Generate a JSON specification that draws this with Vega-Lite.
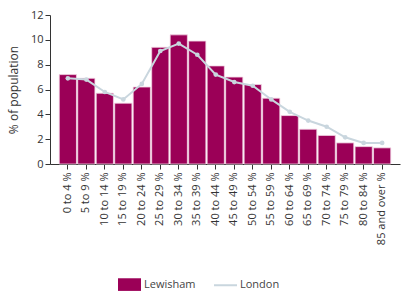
{
  "$schema": "https://vega.github.io/schema/vega-lite/v6.json",
  "width": 350,
  "height": 149,
  "autosize": {"type": "none"},
  "padding": {"left": 50, "top": 15, "right": 1, "bottom": 129},
  "config": {
    "font": "Open Sans",
    "view": {"stroke": null},
    "axis": {"labelColor": "#333333", "titleColor": "#333333", "domainColor": "#333333", "tickColor": "#333333", "labelFontSize": 11, "grid": false, "titleFontWeight": "normal", "labelOverlap": false}
  },
  "data": {
    "values": [
      {"age": "0 to 4 %", "series": "Lewisham", "value": 7.2},
      {"age": "5 to 9 %", "series": "Lewisham", "value": 6.9},
      {"age": "10 to 14 %", "series": "Lewisham", "value": 5.7},
      {"age": "15 to 19 %", "series": "Lewisham", "value": 4.9},
      {"age": "20 to 24 %", "series": "Lewisham", "value": 6.2},
      {"age": "25 to 29 %", "series": "Lewisham", "value": 9.4},
      {"age": "30 to 34 %", "series": "Lewisham", "value": 10.4},
      {"age": "35 to 39 %", "series": "Lewisham", "value": 9.9},
      {"age": "40 to 44 %", "series": "Lewisham", "value": 7.9},
      {"age": "45 to 49 %", "series": "Lewisham", "value": 7.0},
      {"age": "50 to 54 %", "series": "Lewisham", "value": 6.4},
      {"age": "55 to 59 %", "series": "Lewisham", "value": 5.3},
      {"age": "60 to 64 %", "series": "Lewisham", "value": 3.9},
      {"age": "65 to 69 %", "series": "Lewisham", "value": 2.8},
      {"age": "70 to 74 %", "series": "Lewisham", "value": 2.3},
      {"age": "75 to 79 %", "series": "Lewisham", "value": 1.7},
      {"age": "80 to 84 %", "series": "Lewisham", "value": 1.4},
      {"age": "85 and over %", "series": "Lewisham", "value": 1.3},
      {"age": "0 to 4 %", "series": "London", "value": 6.9},
      {"age": "5 to 9 %", "series": "London", "value": 6.8},
      {"age": "10 to 14 %", "series": "London", "value": 5.8},
      {"age": "15 to 19 %", "series": "London", "value": 5.2},
      {"age": "20 to 24 %", "series": "London", "value": 6.45},
      {"age": "25 to 29 %", "series": "London", "value": 9.1},
      {"age": "30 to 34 %", "series": "London", "value": 9.7},
      {"age": "35 to 39 %", "series": "London", "value": 8.8},
      {"age": "40 to 44 %", "series": "London", "value": 7.2},
      {"age": "45 to 49 %", "series": "London", "value": 6.6},
      {"age": "50 to 54 %", "series": "London", "value": 6.3},
      {"age": "55 to 59 %", "series": "London", "value": 5.2},
      {"age": "60 to 64 %", "series": "London", "value": 4.2},
      {"age": "65 to 69 %", "series": "London", "value": 3.5},
      {"age": "70 to 74 %", "series": "London", "value": 3.0},
      {"age": "75 to 79 %", "series": "London", "value": 2.15},
      {"age": "80 to 84 %", "series": "London", "value": 1.7},
      {"age": "85 and over %", "series": "London", "value": 1.7}
    ]
  },
  "encoding": {
    "x": {
      "field": "age", "type": "nominal", "sort": null,
      "scale": {"paddingInner": 0.07, "paddingOuter": 0.5},
      "axis": {"title": null, "labelAngle": -90, "labelPadding": 3, "tickSize": 5}
    },
    "y": {
      "field": "value", "type": "quantitative",
      "scale": {"domain": [0, 12]},
      "axis": {"title": "% of population", "titleFontSize": 12, "values": [0, 2, 4, 6, 8, 10, 12], "tickSize": 5, "titlePadding": 10}
    },
    "color": {
      "field": "series", "type": "nominal",
      "scale": {"domain": ["Lewisham", "London"], "range": ["#9b0057", "#c9d6de"]},
      "legend": {
        "title": null,
        "orient": "none",
        "legendX": 74,
        "legendY": 264,
        "direction": "horizontal",
        "labelFontSize": 11,
        "labelColor": "#444444",
        "columnPadding": 14,
        "symbolSize": 529,
        "labelOffset": 9,
        "encode": {
          "symbols": {
            "update": {
              "shape": {"signal": "datum.label === 'London' ? 'M-1,0H1' : 'M-1,-0.55H1V0.55H-1Z'"},
              "strokeWidth": {"signal": "datum.label === 'London' ? 2 : 0"},
              "stroke": {"signal": "datum.label === 'London' ? '#c9d6de' : null"},
              "fill": {"signal": "datum.label === 'London' ? null : '#9b0057'"},
              "opacity": {"value": 1}
            }
          }
        }
      }
    }
  },
  "layer": [
    {
      "transform": [{"filter": "datum.series === 'Lewisham'"}],
      "mark": {"type": "bar", "stroke": "#f3d6e4", "strokeWidth": 0.8, "opacity": 1}
    },
    {
      "transform": [{"filter": "datum.series === 'London'"}],
      "mark": {"type": "line", "strokeWidth": 2, "point": {"filled": true, "size": 22, "color": "#c9d6de"}}
    }
  ]
}
